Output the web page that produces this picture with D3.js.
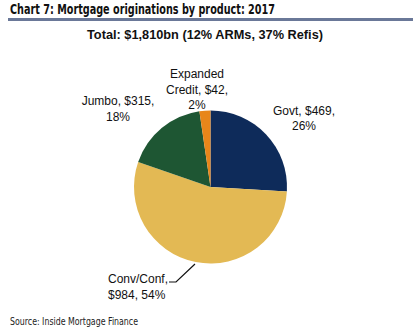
<!DOCTYPE html>
<html><head><meta charset="utf-8">
<script src="https://cdn.jsdelivr.net/npm/d3@7"></script>
<style>html,body{margin:0;padding:0;background:#fff;}svg{display:block;}</style>
</head><body>
<svg id="c" width="418" height="334"></svg>
<script>
const categories = ["Govt", "Conv/Conf", "Jumbo", "Expanded Credit"];
const values = [469, 984, 315, 42];
const percents = ["26%", "54%", "18%", "2%"];
const colors = ["#0e2b5a", "#e3b954", "#1e5633", "#e8861a"];
const title = "Chart 7: Mortgage originations by product: 2017";
const subtitle = "Total: $1,810bn (12% ARMs, 37% Refis)";
const source = "Source: Inside Mortgage Finance";

const svg = d3.select("#c");
const cx = 210.5, cy = 187, r = 76.5;

svg.append("text").attr("x", 10).attr("y", 14)
  .attr("font-family", "Liberation Sans Narrow, DejaVu Sans Condensed, sans-serif")
  .attr("font-weight", "bold").attr("font-size", 14).attr("fill", "#111")
  .attr("textLength", 265).attr("lengthAdjust", "spacingAndGlyphs").text(title);
svg.append("rect").attr("x", 8).attr("y", 18).attr("width", 405).attr("height", 3).attr("fill", "#6a7898");

svg.append("text").attr("x", 205).attr("y", 38.5).attr("text-anchor", "middle")
  .attr("font-family", "Liberation Sans, Arial, sans-serif")
  .attr("font-weight", "bold").attr("font-size", 13.5).attr("fill", "#111")
  .attr("textLength", 236).attr("lengthAdjust", "spacingAndGlyphs").text(subtitle);

const pie = d3.pie().sort(null).value(d => d)(values);
const arc = d3.arc().innerRadius(0).outerRadius(r);
const g = svg.append("g").attr("transform", `translate(${cx},${cy})`);
g.selectAll("path").data(pie).enter().append("path")
  .attr("d", arc).attr("fill", (d, i) => colors[i]);

const labelFont = "Liberation Sans, Arial, sans-serif";
function label(lines, x, y0, lh, anchor) {
  const t = svg.append("text").attr("font-family", labelFont).attr("font-size", 12)
    .attr("fill", "#111").attr("text-anchor", anchor);
  lines.forEach((s, i) => t.append("tspan").attr("x", x).attr("y", y0 + i * lh).text(s));
}
label([`${categories[0]}, $${values[0]},`, percents[0]], 304, 115, 15, "middle");
label(["Expanded", `Credit, $${values[3]},`, percents[3]], 197, 78, 15.5, "middle");
label([`${categories[2]}, $${values[2]},`, percents[2]], 118, 105, 16, "middle");
label([`${categories[1]},`, `$${values[1]}, ${percents[1]}`], 108, 283, 16, "start");

// leader line for Conv/Conf
svg.append("polyline")
  .attr("points", `169,282 176,282 195,264`)
  .attr("fill", "none").attr("stroke", "#111").attr("stroke-width", 1.2);

svg.append("text").attr("x", 10).attr("y", 325)
  .attr("font-family", "Liberation Sans Narrow, DejaVu Sans Condensed, sans-serif")
  .attr("font-size", 10).attr("fill", "#222")
  .attr("textLength", 128).attr("lengthAdjust", "spacingAndGlyphs").text(source);
</script>
</body></html>
